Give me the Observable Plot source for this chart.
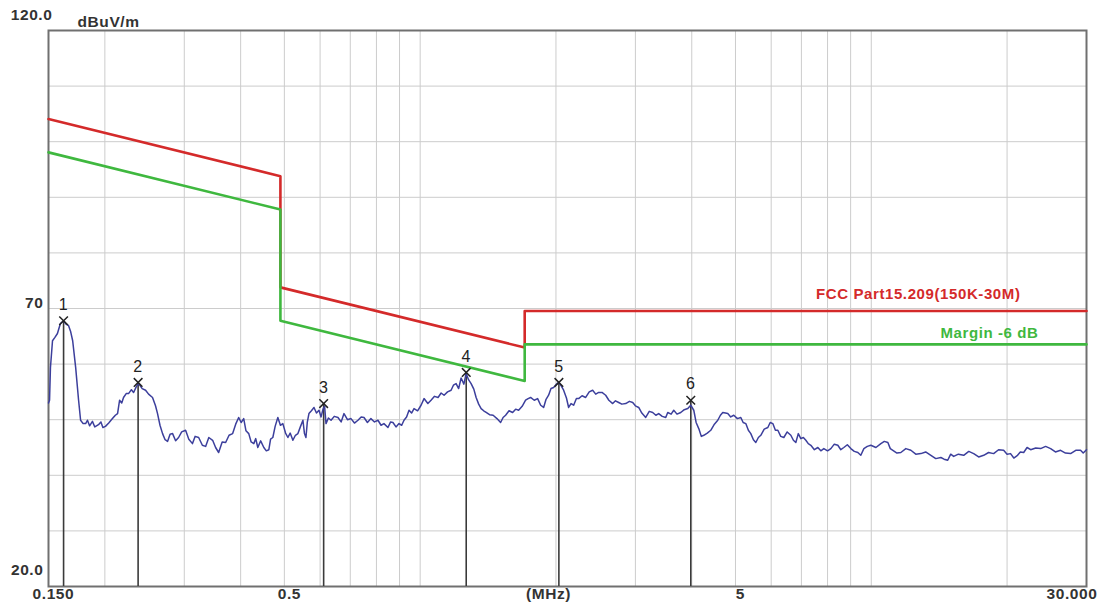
<!DOCTYPE html>
<html>
<head>
<meta charset="utf-8">
<script src="https://cdn.jsdelivr.net/npm/d3@7"></script>
<script src="https://cdn.jsdelivr.net/npm/@observablehq/plot@0.6"></script>
<style>
  html, body { margin: 0; padding: 0; background: #fff; }
  #chart svg { display: block; }
</style>
</head>
<body>
<div id="chart"></div>
<script>
// ---- data ----
const limitMHz = [0.15, 0.49, 0.49, 1.705, 1.705, 30];
const limitDb  = [104.08, 93.80, 73.80, 62.97, 69.54, 69.54];
const marginDb = [98.08, 87.80, 67.80, 56.97, 63.54, 63.54];
const limitName = "FCC Part15.209(150K-30M)";
const marginName = "Margin -6 dB";

const markerNo  = [1, 2, 3, 4, 5, 6];
const markerMHz = [0.162, 0.237, 0.611, 1.265, 2.03, 3.98];
const markerDb  = [67.8, 56.7, 52.9, 58.5, 56.7, 53.5];

const gridMHz = [0.2, 0.3, 0.4, 0.5, 0.6, 0.7, 0.8, 0.9, 1, 2, 3, 4, 5, 6, 7, 8, 9, 10, 20];
const gridDb  = [30, 40, 50, 60, 70, 80, 90, 100, 110];

const yTickValues = [120, 70, 20];
const yTickText   = ["120.0", "70", "20.0"];
const xTickValues = [0.15, 0.5, 5, 30];
const xTickText   = ["0.150", "0.5", "5", "30.000"];
const yUnit = "dBuV/m";
const xUnit = "(MHz)";

const traceMHz = [
0.150,0.1508,0.1515,0.1531,0.1550,0.1570,0.1594,0.1619,0.1640,0.1662,0.1680,0.1697,0.1723,0.1749,0.1767,0.1790,0.1813,0.1830,0.1850,0.1877,
0.1900,0.1936,0.1960,0.1980,0.2006,0.2040,0.2079,0.2110,0.2134,0.2156,0.2180,0.2200,0.2230,0.2257,0.2290,0.2316,0.2350,0.2376,0.2420,0.2462,
0.2500,0.2551,0.2590,0.2617,0.2650,0.2685,0.2720,0.2754,0.2790,0.2826,0.2870,0.2914,0.2960,0.3020,0.3070,0.3128,0.3170,0.3228,0.3290,0.3345,
0.3400,0.3467,0.3520,0.3575,0.3640,0.3705,0.3770,0.3840,0.3900,0.3960,0.4010,0.4063,0.4110,0.4169,0.4220,0.4278,0.4320,0.4366,0.4430,0.4502,
0.4560,0.4619,0.4660,0.4714,0.4770,0.4836,0.4900,0.4961,0.5030,0.5091,0.5150,0.5222,0.5290,0.5358,0.5430,0.5497,0.5540,0.5582,0.5620,0.5668,
0.5740,0.5816,0.5890,0.5967,0.6030,0.6090,0.6140,0.6184,0.6260,0.6345,0.6450,0.6574,0.6680,0.6779,0.6900,0.7025,0.7150,0.7280,0.7400,0.7508,
0.7640,0.7777,0.7920,0.8062,0.8190,0.8312,0.8484,0.8600,0.8703,0.8840,0.8976,0.9100,0.9208,0.9330,0.9447,0.9570,0.9692,0.9870,1.0045,1.0200,
1.0400,1.0570,1.0760,1.0956,1.1130,1.1298,1.1500,1.1710,1.1850,1.2013,1.2170,1.2324,1.2500,1.2643,1.2800,1.2970,1.3150,1.3306,1.3480,1.3650,
1.3830,1.4004,1.4250,1.4512,1.4800,1.5077,1.5270,1.5467,1.5740,1.6029,1.6280,1.6528,1.6830,1.7128,1.7350,1.7571,1.7900,1.8212,1.8500,1.8779,
1.9000,1.9263,1.9500,1.9761,2.0000,2.0273,2.0500,2.0798,2.1100,2.1336,2.1600,2.1888,2.2200,2.2455,2.2850,2.3276,2.3700,2.4121,2.4500,2.4872,
2.5300,2.5778,2.6200,2.6718,2.7100,2.7548,2.8000,2.8554,2.9100,2.9592,3.0000,3.0513,3.1000,3.1622,3.2200,3.2773,3.3300,3.3792,3.4400,3.5026,
3.5383,3.6000,3.6488,3.7100,3.7817,3.8500,3.9195,3.9799,4.0415,4.0900,4.1458,4.2000,4.2532,4.3300,4.4076,4.4900,4.5681,4.6300,4.6863,4.7500,
4.8075,4.8800,4.9571,5.0500,5.1379,5.2000,5.2708,5.3400,5.4069,5.4800,5.5470,5.6200,5.6905,5.7900,5.8978,5.9700,6.0503,6.1300,6.2069,6.3000,
6.4000,6.5100,6.6326,6.7200,6.8038,6.8900,6.9801,7.0700,7.1609,7.2500,7.3459,7.4800,7.6133,7.7300,7.8497,8.0000,8.1357,8.2800,8.4313,8.5600,
8.6937,8.8500,9.0101,9.1700,9.3384,9.4800,9.6293,9.8000,9.9795,10.240,10.502,10.690,10.884,11.020,11.165,11.400,11.630,11.930,12.240,12.550,
12.882,13.200,13.557,13.900,14.264,14.500,14.773,15.000,15.230,15.600,16.029,16.450,16.868,17.300,17.752,18.200,18.676,19.150,19.654,20.000,
20.360,20.700,21.100,21.400,21.770,22.150,22.560,23.150,23.740,24.350,24.980,25.600,26.280,26.950,27.660,28.400,29.100,29.500,30.000
];
const traceDb = [
53.0,53.5,59.4,64.2,64.8,65.5,67.3,67.8,67.2,66.9,65.8,64.2,59.4,53.5,49.9,49.3,49.3,49.9,48.9,49.7,
48.7,49.1,49.6,48.6,48.8,49.4,50.2,50.8,51.1,53.5,53.0,54.0,54.7,54.7,55.4,54.9,56.0,56.5,55.6,55.3,
54.6,54.0,52.5,51.1,49.0,47.5,46.4,46.1,47.4,47.5,46.2,46.8,47.8,48.1,46.5,45.7,47.0,46.8,45.4,45.2,
46.8,46.3,45.0,44.1,46.0,45.9,47.2,47.5,49.2,50.4,49.5,50.2,48.0,47.5,46.0,45.7,46.6,45.0,46.2,45.0,
44.4,44.6,46.5,46.8,48.8,50.4,49.0,49.3,47.6,46.8,47.6,46.3,47.2,47.5,48.8,49.9,47.5,46.8,49.5,51.1,
51.6,52.2,51.2,51.7,50.5,51.9,52.4,49.3,50.3,49.9,50.6,50.4,49.6,51.1,50.0,50.2,49.4,49.9,50.5,50.4,
49.5,50.2,49.6,49.9,49.0,49.3,48.6,49.6,49.5,48.7,49.3,49.0,49.9,50.5,51.7,51.2,52.0,51.6,52.6,53.8,
52.9,53.5,54.2,54.0,54.8,54.4,55.0,55.3,56.2,56.5,55.6,57.5,56.4,58.3,57.2,56.5,55.5,54.0,52.8,52.0,
51.6,51.3,50.9,50.8,50.2,49.5,50.4,50.8,51.6,51.3,51.9,51.7,52.4,53.5,53.8,54.0,53.5,53.8,52.6,52.2,
53.6,54.4,55.6,55.8,56.3,56.7,56.2,55.3,53.9,52.2,52.9,52.6,53.8,53.8,54.3,54.0,55.0,55.3,54.6,54.9,
54.9,54.4,53.5,52.9,53.4,53.1,52.8,52.9,53.3,53.1,52.5,52.2,51.2,50.4,51.5,51.3,50.8,51.1,50.6,50.4,
51.3,51.0,51.7,51.0,51.3,51.8,52.0,52.6,51.7,49.5,48.4,47.0,47.2,47.6,48.1,49.2,49.9,50.8,51.3,51.2,
51.1,50.5,50.8,50.2,50.4,49.5,49.3,48.1,47.5,46.4,45.9,46.8,47.2,48.3,48.6,49.5,49.3,48.1,48.1,47.0,
46.8,47.8,47.2,46.3,45.9,47.5,46.6,46.8,46.3,45.7,45.4,44.6,45.0,44.4,44.8,44.4,44.8,45.6,45.4,44.6,
45.0,45.5,44.8,44.3,44.1,43.6,44.8,45.2,45.4,45.0,45.7,46.1,45.9,44.8,44.5,44.0,44.1,44.8,44.5,43.8,
43.9,44.2,43.6,43.0,43.2,42.9,42.7,43.8,43.4,43.8,43.6,44.3,43.9,43.3,43.6,44.1,43.9,44.6,44.5,43.8,
43.9,43.1,43.6,44.2,44.1,45.0,44.6,44.9,44.8,45.2,44.8,44.2,44.5,44.0,43.9,44.5,44.5,44.0,44.6
];

// ---- build tables ----
const trace = traceMHz.map((f, i) => ({f, v: traceDb[i]}));
const limit = limitMHz.map((f, i) => ({f, v: limitDb[i]}));
const margin = limitMHz.map((f, i) => ({f, v: marginDb[i]}));
const markers = markerNo.map((n, i) => ({n: String(n), f: markerMHz[i], v: markerDb[i]}));
const yTicks = yTickValues.map((v, i) => ({v, t: yTickText[i]}));
const xTicks = xTickValues.map((f, i) => ({f, t: xTickText[i]}));

const font = "'Liberation Sans', Arial, sans-serif";
const labelStyle = {fontFamily: font, fontSize: 15.5, fontWeight: "bold", fill: "#333"};

const chart = Plot.plot({
  width: 1100,
  height: 611,
  marginLeft: 48,
  marginRight: 14,
  marginTop: 30,
  marginBottom: 25,
  style: {fontFamily: font, background: "#fff", letterSpacing: "0.6px"},
  x: {type: "log", domain: [0.15, 30], axis: null},
  y: {domain: [20, 120], axis: null},
  marks: [
    Plot.ruleX(gridMHz, {stroke: "#cccccc", strokeWidth: 1}),
    Plot.ruleY(gridDb, {stroke: "#cccccc", strokeWidth: 1}),
    Plot.frame({stroke: "#707070", strokeWidth: 2}),
    // limit lines
    Plot.line(limit, {x: "f", y: "v", stroke: "#d42a2a", strokeWidth: 2.6}),
    Plot.line(margin, {x: "f", y: "v", stroke: "#3fb83f", strokeWidth: 2.6}),
    Plot.text([limit[limit.length - 1]], {x: "f", y: "v", text: () => limitName, textAnchor: "end", dx: -66, dy: -17, fill: "#d42a2a", fontSize: 15, fontWeight: "bold"}),
    Plot.text([margin[margin.length - 1]], {x: "f", y: "v", text: () => marginName, textAnchor: "end", dx: -48, dy: -11, fill: "#3fb83f", fontSize: 15, fontWeight: "bold"}),
    // marker rules
    Plot.ruleX(markers, {x: "f", y1: "v", y2: 20, stroke: "#3a3a3a", strokeWidth: 1.6}),
    // trace
    Plot.line(trace, {x: "f", y: "v", stroke: "#3c3f9c", strokeWidth: 1.5, curve: "linear"}),
    // marker symbols and numbers
    Plot.dot(markers, {x: "f", y: "v", symbol: "times", r: 4, stroke: "#222", strokeWidth: 1.5}),
    Plot.text(markers, {x: "f", y: "v", text: "n", dy: -16, fontSize: 16, fill: "#222"}),
    // y tick labels
    Plot.text(yTicks.filter(d => d.v === 120), {y: "v", frameAnchor: "left", text: "t", textAnchor: "end", dx: 4, dy: -15, ...labelStyle}),
    Plot.text(yTicks.filter(d => d.v !== 120 && d.v !== 20), {y: "v", frameAnchor: "left", text: "t", textAnchor: "end", dx: -5, dy: -5, ...labelStyle}),
    Plot.text(yTicks.filter(d => d.v === 20), {y: "v", frameAnchor: "left", text: "t", textAnchor: "end", dx: -5, dy: -16, ...labelStyle}),
    Plot.text([yUnit], {frameAnchor: "top-left", text: d => d, textAnchor: "start", dx: 29, dy: -15, ...labelStyle}),
    // x tick labels
    Plot.text(xTicks.filter((d, i) => i === 0), {x: "f", frameAnchor: "bottom", text: "t", textAnchor: "start", dx: -16, dy: 12, ...labelStyle}),
    Plot.text(xTicks.filter((d, i) => i > 0 && i < xTicks.length - 1), {x: "f", frameAnchor: "bottom", text: "t", textAnchor: "middle", dx: 5, dy: 12, ...labelStyle}),
    Plot.text(xTicks.filter((d, i) => i === xTicks.length - 1), {x: "f", frameAnchor: "bottom", text: "t", textAnchor: "end", dx: 11, dy: 12, ...labelStyle}),
    Plot.text([xUnit], {frameAnchor: "bottom", text: d => d, dx: -19, dy: 12, ...labelStyle})
  ]
});
document.getElementById("chart").appendChild(chart);
</script>
</body>
</html>
